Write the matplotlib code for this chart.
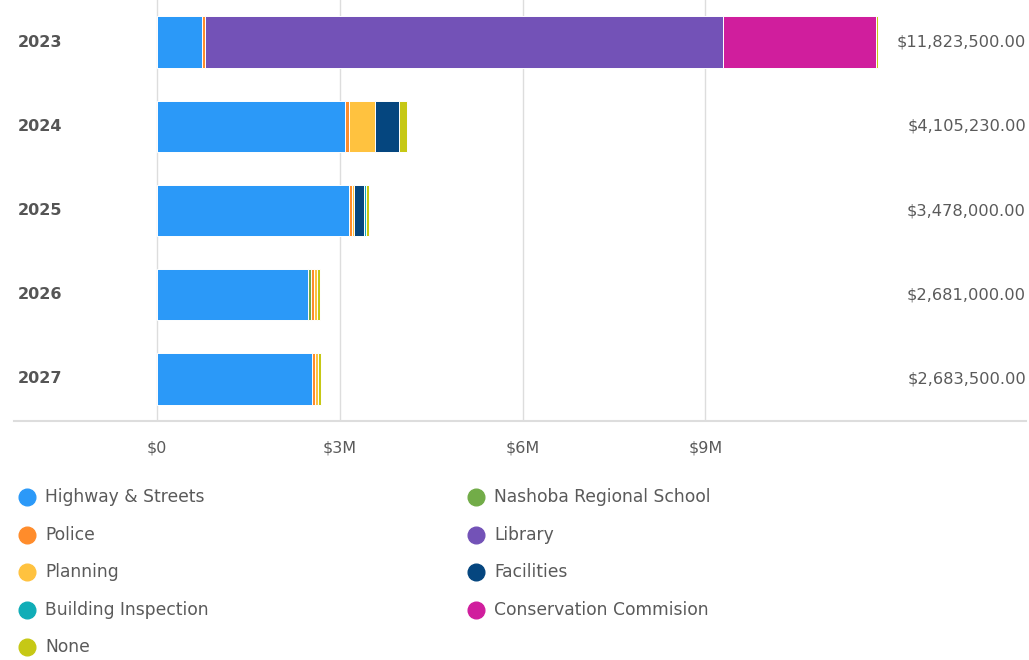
import matplotlib.pyplot as plt
from matplotlib.lines import Line2D

plt.rcParams['font.family'] = ['DejaVu Sans']

years = ['2023', '2024', '2025', '2026', '2027']

# spending per department and year (stack order)
departments = ['Highway & Streets', 'Nashoba Regional School', 'Police', 'Library',
               'Planning', 'Facilities', 'Building Inspection', 'Conservation Commision', 'None']
highway = [740000, 3080000, 3150000, 2470000, 2540000]
nashoba = [0, 0, 0, 60000, 0]
police = [45000, 70000, 45000, 50000, 55000]
library = [8510000, 0, 0, 0, 0]
planning = [0, 430000, 35000, 50000, 40000]
facilities = [0, 390000, 160000, 0, 0]
building = [0, 0, 45000, 0, 0]
conservation = [2505000, 0, 0, 0, 0]
none = [23500, 135230, 43000, 51000, 48500]

colors = ['#2B99F8', '#72AC48', '#FF8C2B', '#7352B7', '#FFC23F',
          '#05467F', '#10ADB7', '#D01E9D', '#C6C815']

series = [highway, nashoba, police, library, planning, facilities, building, conservation, none]

# legend is laid out in two columns
legend_cols = [
    ['Highway & Streets', 'Police', 'Planning', 'Building Inspection', 'None'],
    ['Nashoba Regional School', 'Library', 'Facilities', 'Conservation Commision'],
]

W, H = 1029, 660
fig = plt.figure(figsize=(W / 100, H / 100), dpi=100)
ax = fig.add_axes([14 / W, 1 - 421 / H, (1026 - 14) / W, 421 / H])

left = [0] * len(years)
for vals, color in zip(series, colors):
    ax.barh(range(len(years)), vals, left=left, height=0.61, color=color,
            edgecolor='white', linewidth=0.7, zorder=3)
    left = [l + v for l, v in zip(left, vals)]

ax.set_xlim(-2.347e6, 14.26e6)
ax.set_ylim(4.5, -0.5)

for x in [0, 3e6, 6e6, 9e6]:
    ax.axvline(x, color='#dddddd', linewidth=1, zorder=1)

for s in ['top', 'right', 'left']:
    ax.spines[s].set_visible(False)
ax.spines['bottom'].set_color('#dddddd')
ax.spines['bottom'].set_linewidth(1.5)

ax.set_xticks([0, 3e6, 6e6, 9e6])
ax.set_xticklabels(['$0', '$3M', '$6M', '$9M'], color='#5a5a5a', fontsize=11.5)
ax.tick_params(axis='x', length=0, pad=14)
ax.set_yticks([])

for i, (yr, total) in enumerate(zip(years, left)):
    ax.text(-2.285e6, i, yr, ha='left', va='center', fontsize=11.5, fontweight='bold',
            color='#555555')
    ax.text(14.26e6, i, f'${total:,.2f}', ha='right', va='center', fontsize=11.7,
            color='#5a5a5a')

color_of = dict(zip(departments, colors))
col_x = [27, 476]
row_y = [497, 535, 572, 610, 647]
for cx, names in zip(col_x, legend_cols):
    for ry, name in zip(row_y, names):
        fig.add_artist(Line2D([cx / W], [1 - ry / H], marker='o', markersize=12,
                              color=color_of[name], linestyle='none'))
        fig.text((cx + 18) / W, 1 - ry / H, name, ha='left', va='center',
                 fontsize=12.3, color='#5a5a5a')

fig.savefig('out.png', dpi=100)
